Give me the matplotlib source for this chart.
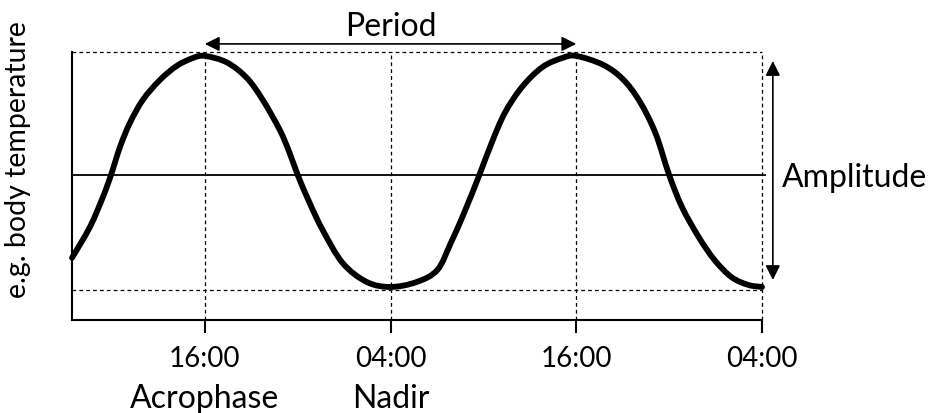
import numpy as np
import matplotlib.pyplot as plt
from matplotlib.path import Path
from matplotlib.patches import PathPatch

plt.rcParams['font.family'] = ['Lato', 'DejaVu Sans']

# hours since midnight of day 1 (16 = 16:00, 28 = 04:00 next day, ...)
hours = [7.42, 8.58, 9.42, 9.94, 10.52, 11.16, 12.0, 13.10, 14.19, 15.23, 16.0,
         17.42, 18.71, 19.74, 20.84, 21.48, 22.0, 22.77, 23.61, 24.90, 26.45, 28.0,
         29.71, 31.03, 31.89, 32.75, 33.74, 34.53, 35.38, 36.50, 37.82, 39.14, 40.0,
         41.72, 43.0, 44.08, 45.11, 46.0, 46.83, 47.91, 48.93, 50.02, 51.10, 52.0]
temp = [36.126, 36.260, 36.390, 36.485, 36.606, 36.710, 36.810, 36.896, 36.957, 36.991, 37.0,
        36.972, 36.905, 36.810, 36.680, 36.580, 36.485, 36.364, 36.247, 36.104, 36.022, 36.0,
        36.022, 36.074, 36.190, 36.320, 36.485, 36.623, 36.753, 36.866, 36.952, 36.992, 37.0,
        36.962, 36.900, 36.805, 36.667, 36.485, 36.346, 36.216, 36.117, 36.043, 36.009, 36.0]

tick_pos = [16, 28, 40, 52]
tick_labels = ['16:00', '04:00', '16:00', '04:00']
mesor = 36.485
peak_line = 37.017
nadir_line = 35.987
y_bottom = 35.857


def smooth_path(x, y):
    # Catmull-Rom through the points, drawn as cubic Bezier segments
    p = np.column_stack([x, y])
    p = np.vstack([p[0], p, p[-1]])
    verts = [p[1]]
    codes = [Path.MOVETO]
    for i in range(1, len(p) - 2):
        c1 = p[i] + (p[i + 1] - p[i - 1]) / 6
        c2 = p[i + 1] - (p[i + 2] - p[i]) / 6
        verts += [c1, c2, p[i + 1]]
        codes += [Path.CURVE4] * 3
    return Path(verts, codes)


fig = plt.figure(figsize=(9.39, 4.13), dpi=100)
ax = fig.add_axes([0.0767, 0.2252, 0.7348, 0.6489])
ax.set_xlim(7.42, 52)
ax.set_ylim(y_bottom, peak_line)

# reference lines
dash = dict(color='black', lw=0.9, ls=(0, (3, 2.5)), clip_on=False)
ax.plot([7.42, 52], [peak_line, peak_line], **dash)
ax.plot([7.42, 52], [nadir_line, nadir_line], **dash)
for t in tick_pos:
    ax.plot([t, t], [y_bottom, peak_line], **dash)
ax.plot([7.42, 52.2], [mesor, mesor], color='black', lw=1.3, clip_on=False)

ax.add_patch(PathPatch(smooth_path(hours, temp), fill=False, ec='black',
                       lw=4.2, capstyle='round', clip_on=False))

# period and amplitude arrows
ax.annotate('', xy=(16, 37.052), xytext=(40, 37.052),
            arrowprops=dict(arrowstyle='<|-|>', color='black', lw=1.2,
                            mutation_scale=22, shrinkA=0, shrinkB=0),
            annotation_clip=False)
ax.text(28, 37.125, 'Period', ha='center', va='center', fontsize=23)
ax.annotate('', xy=(52.7, 36.978), xytext=(52.7, 36.03),
            arrowprops=dict(arrowstyle='<|-|>', color='black', lw=1.2,
                            mutation_scale=22, shrinkA=0, shrinkB=0),
            annotation_clip=False)
ax.text(53.3, 36.47, 'Amplitude', ha='left', va='center', fontsize=23)

ax.spines['top'].set_visible(False)
ax.spines['right'].set_visible(False)
ax.spines['left'].set_linewidth(1.5)
ax.spines['bottom'].set_linewidth(1.5)
ax.set_yticks([])
ax.set_xticks(tick_pos)
ax.set_xticklabels(tick_labels, fontsize=20)
ax.tick_params(axis='x', direction='out', length=9, width=1.5, pad=10)
ax.set_ylabel('e.g. body temperature', fontsize=20.5)
ax.yaxis.set_label_coords(-0.06, 0.597)

for x, name in [(16, 'Acrophase'), (28, 'Nadir')]:
    ax.annotate(name, xy=(x, 0), xycoords=('data', 'axes fraction'),
                xytext=(0, -57), textcoords='offset points',
                ha='center', va='center', fontsize=23)

fig.savefig('out.png', dpi=100)
